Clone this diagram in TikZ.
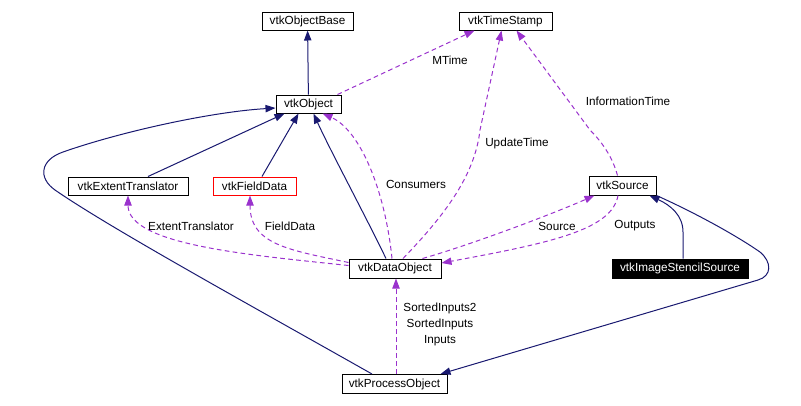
\documentclass[tikz,border=0pt]{standalone}
\usepackage{fontspec}
\setmainfont{Liberation Sans}
\usetikzlibrary{arrows.meta,calc}
\definecolor{navy}{HTML}{191970}
\definecolor{orchid}{HTML}{9A32CD}
\begin{document}
\begin{tikzpicture}[x=0.75pt,y=-0.75pt,
 box/.style={draw=black,line width=0.75pt,inner sep=0pt,minimum height=13.5pt,font=\fontsize{8.8}{10}\selectfont},
 inh/.style={draw=navy,line width=0.75pt,-{Triangle[length=7.5pt,width=5.5pt]}},
 dep/.style={draw=orchid,line width=0.75pt,dash pattern=on 3.5pt off 2.5pt,-{Triangle[length=7.5pt,width=5.5pt]}},
 lbl/.style={font=\fontsize{8.8}{12}\selectfont,inner sep=0pt,align=center}]
\useasboundingbox (0,0) rectangle (801,405);
% nodes
\node[box,minimum width=68.25pt] (objbase) at (307.5,21) {vtkObjectBase};
\node[box,minimum width=69.75pt] (ts) at (505.5,21) {vtkTimeStamp};
\node[box,minimum width=48.75pt] (obj) at (308.5,104) {vtkObject};
\node[box,minimum width=90pt] (ext) at (128,186) {vtkExtentTranslator};
\node[box,draw=red,minimum width=62.25pt] (fd) at (254.5,186) {vtkFieldData};
\node[box,minimum width=69pt,minimum height=14.25pt] (dobj) at (395,268.5) {vtkDataObject};
\node[box,minimum width=50.25pt,minimum height=14.25pt] (src) at (622.5,185.5) {vtkSource};
\node[box,fill=black,text=white,minimum width=102pt,minimum height=14.25pt] (iss) at (680,268.5) {vtkImageStencilSource};
\node[box,minimum width=78.75pt,minimum height=14.25pt] (po) at (394.5,384) {vtkProcessObject};
% inheritance
\draw[inh] (obj) -- (objbase);
\draw[inh] ($(ext.north)+(20,0)$) -- ($(obj.south west)+(9,0)$);
\draw[inh] ($(fd.north)+(7.5,0)$) -- ($(obj.south)+(-10,0)$);
\draw[inh] ($(dobj.north)+(-9,0)$) .. controls (365,215) and (330,150) .. ($(obj.south)+(5,0)$);
\draw[inh] ($(po.north)+(-22.5,0)$) .. controls (250,305) and (110,228) .. (55,190) .. controls (38,178) and (40,160) .. (63,152) .. controls (120,132) and (210,112) .. ($(obj.west)+(0,4)$);
\draw[inh] ($(iss.north)+(3,0)$) -- (683,232) .. controls (683,215) and (670,205) .. ($(src.south east)+(-7,0)$);
\draw[inh] (src.south east) .. controls (700,215) and (740,238) .. (760,252) .. controls (772,262) and (772,276) .. (758,280) -- ($(po.north east)+(-7,0)$);
% usage
\draw[dep] ($(obj.north east)+(-4,0)$) -- ($(ts.south west)+(16,0)$);
\draw[dep] ($(dobj.north)+(8,0)$) .. controls (445,215) and (475,175) .. (480,130) -- ($(ts.south)+(-4,0)$);
\draw[dep] ($(src.north)+(-5,0)$) .. controls (612,155) and (600,140) .. (590,130) -- ($(ts.south)+(11,0)$);
\draw[dep] ($(dobj.north)+(-3,0)$) .. controls (385,190) and (360,130) .. ($(obj.south east)+(-19,0)$);
\draw[dep] ($(dobj.west)+(0,-3)$) .. controls (250,255) and (128,245) .. (ext.south);
\draw[dep] ($(dobj.west)+(0,-6)$) .. controls (290,250) and (250,245) .. ($(fd.south)+(-4.5,0)$);
\draw[dep] ($(dobj.north east)+(-19,0)$) .. controls (470,245) and (550,215) .. ($(src.south west)+(6,0)$);
\draw[dep] ($(src.south)+(-4.5,0)$) .. controls (612,230) and (550,243) .. ($(dobj.east)+(0,-5.5)$);
\draw[dep] ($(po.north)+(1.5,0)$) -- ($(dobj.south)+(1,0)$);
% labels
\node[lbl] (lmtime) at (450,60) {MTime};
\node[lbl] (linfo) at (628,101) {InformationTime};
\node[lbl] (lupd) at (517,143) {UpdateTime};
\node[lbl] (lcons) at (416,184) {Consumers};
\node[lbl] (lext) at (191,226) {ExtentTranslator};
\node[lbl] (lfd) at (290,226) {FieldData};
\node[lbl] (lsrc) at (557,226) {Source};
\node[lbl] (lout) at (635,226) {Outputs};
\node[lbl] (lsorted) at (440,324) {SortedInputs2\\SortedInputs\\Inputs};
\end{tikzpicture}
\end{document}
